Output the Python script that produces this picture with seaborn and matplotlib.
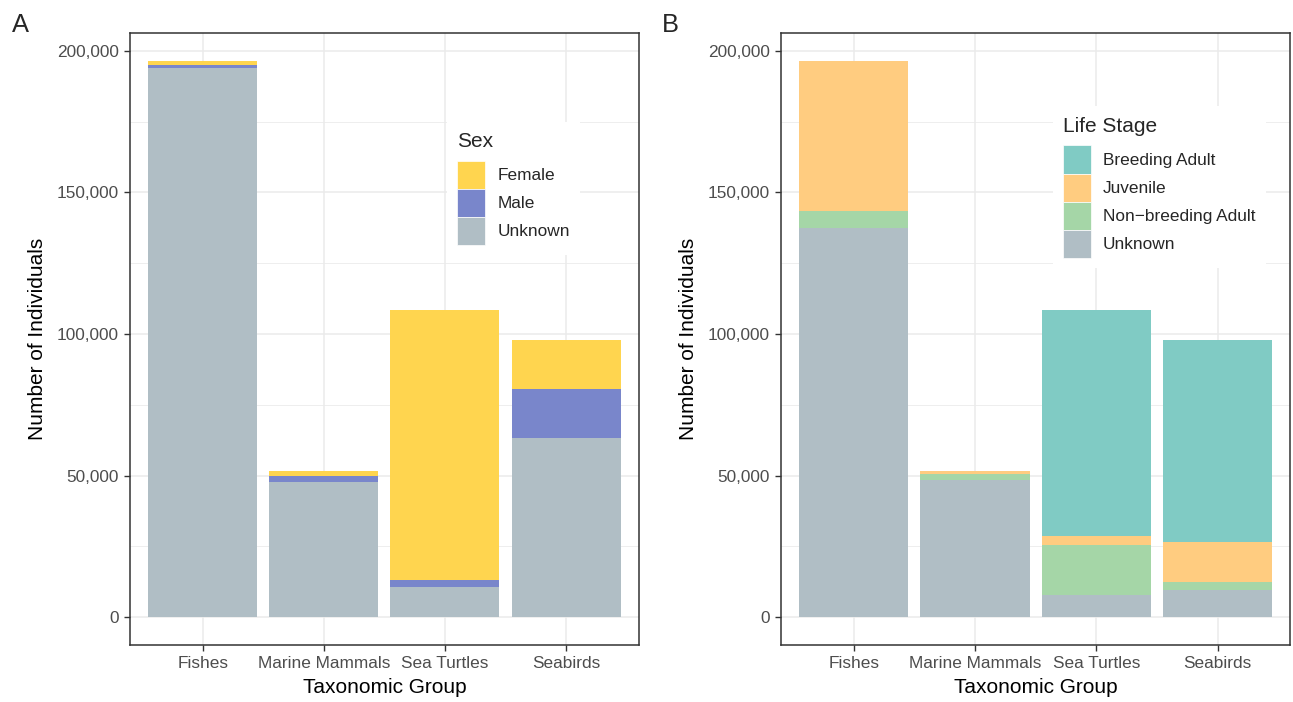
import seaborn as sns
import matplotlib.pyplot as plt
import pandas as pd
from matplotlib.patches import Patch
from matplotlib.ticker import StrMethodFormatter, MultipleLocator

# Data
groups = ["Fishes", "Marine Mammals", "Sea Turtles", "Seabirds"]

sex_levels = ["Female", "Male", "Unknown"]
sex_female = [1400, 1800, 95600, 17300]
sex_male = [1100, 2100, 2500, 17100]
sex_unknown = [194000, 47800, 10500, 63400]
sex_colors = ["#FFD54F", "#7986CB", "#B0BEC5"]

stage_levels = ["Breeding Adult", "Juvenile", "Non\u2212breeding Adult", "Unknown"]
stage_breeding = [0, 0, 80100, 71100]
stage_juvenile = [53100, 1000, 2900, 14100]
stage_nonbreeding = [5900, 2200, 17800, 3000]
stage_unknown = [137500, 48500, 7800, 9600]
stage_colors = ["#80CBC4", "#FFCC80", "#A5D6A7", "#B0BEC5"]

sns.set_theme(style="whitegrid")
plt.rcParams["font.family"] = ["Liberation Sans", "DejaVu Sans"]


def stacked(ax, series, levels, colors):
    # series listed top -> bottom; draw cumulative totals, tallest first
    df = pd.DataFrame({"group": groups})
    for lev, vals in zip(levels, series):
        df[lev] = vals
    cum = df[levels[::-1]].cumsum(axis=1)
    for lev, col in zip(levels, colors):
        sns.barplot(x=df["group"], y=cum[lev], color=col, saturation=1,
                    width=0.9, linewidth=0, ax=ax, order=groups)
    top = cum[levels[0]].max()
    ax.set_ylim(-0.05 * top, 1.05 * top)
    ax.set_xlim(-0.6, 3.6)
    ax.yaxis.set_major_locator(MultipleLocator(50000))
    ax.yaxis.set_minor_locator(MultipleLocator(25000))
    ax.yaxis.set_major_formatter(StrMethodFormatter("{x:,.0f}"))
    ax.grid(True, which="major", color="#EBEBEB", linewidth=1.1)
    ax.grid(True, which="minor", axis="y", color="#EBEBEB", linewidth=0.6)
    ax.set_axisbelow(True)
    for s in ax.spines.values():
        s.set_color("#333333")
        s.set_linewidth(1.1)
    ax.tick_params(axis="both", which="major", length=4, width=1, color="#333333",
                   labelsize=12.4, labelcolor="#4D4D4D", pad=4, left=True, bottom=True)
    ax.tick_params(axis="y", which="minor", length=0)
    ax.set_xlabel("Taxonomic Group", fontsize=15, color="black", labelpad=5)
    ax.set_ylabel("Number of Individuals", fontsize=15, color="black", labelpad=7)
    return [Patch(facecolor=c, edgecolor="white", linewidth=0.5) for c in colors]


def add_legend(ax, handles, labels, title, anchor):
    leg = ax.legend(handles, labels, title=title, loc="upper left",
                    bbox_to_anchor=anchor, fontsize=12.4, title_fontsize=15,
                    handlelength=1.63, handleheight=2.13, labelspacing=0,
                    handletextpad=0.7, frameon=True, facecolor="white",
                    edgecolor="none", framealpha=1, fancybox=False,
                    borderpad=0.6, borderaxespad=0, alignment="left")
    leg._legend_box.sep = 7
    return leg


fig = plt.figure(figsize=(12.93, 7.02), dpi=100)
axA = fig.add_axes([0.1005, 0.0812, 0.3935, 0.8718])
axB = fig.add_axes([0.604, 0.0812, 0.394, 0.8718])

hA = stacked(axA, [sex_female, sex_male, sex_unknown], sex_levels, sex_colors)
hB = stacked(axB, [stage_breeding, stage_juvenile, stage_nonbreeding, stage_unknown],
             stage_levels, stage_colors)

add_legend(axA, hA, sex_levels, "Sex", (0.623, 0.855))
add_legend(axB, hB, stage_levels, "Life Stage", (0.533, 0.88))

fig.text(0.009, 0.965, "A", fontsize=18.4, va="center", ha="left")
fig.text(0.512, 0.965, "B", fontsize=18.4, va="center", ha="left")

plt.savefig("out.png", dpi=100)
